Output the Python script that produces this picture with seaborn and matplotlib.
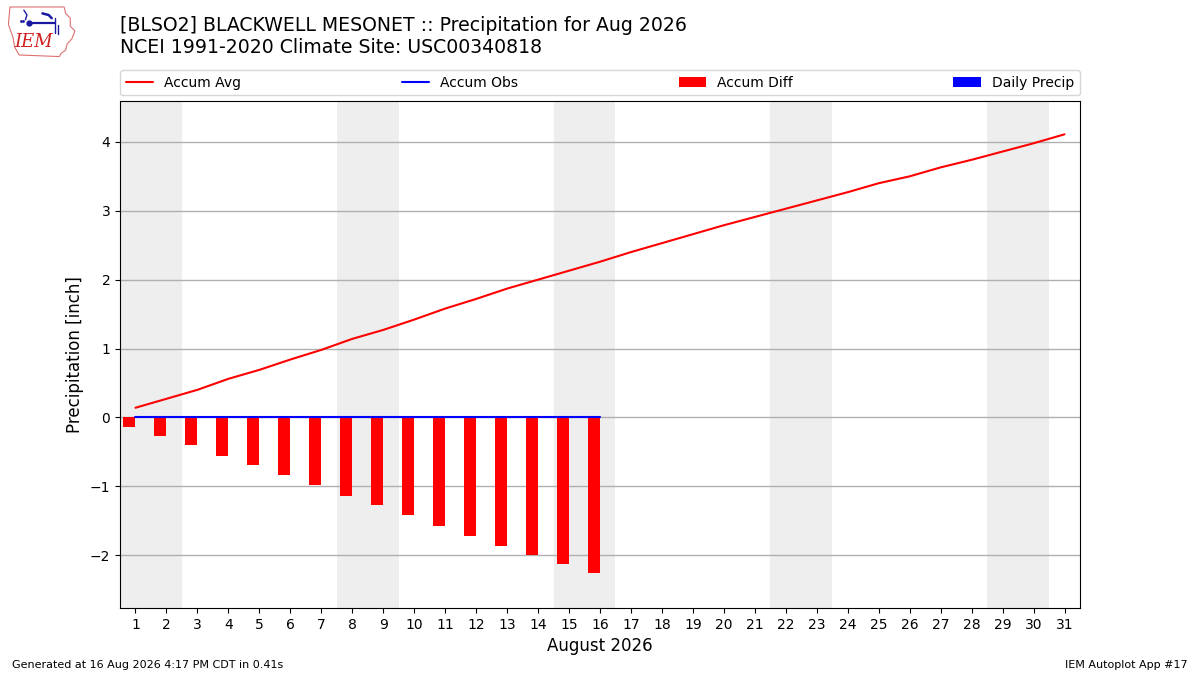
import numpy as np
import pandas as pd
import matplotlib
matplotlib.use("Agg")
import matplotlib.pyplot as plt
from matplotlib.patches import Patch, Polygon
from matplotlib.lines import Line2D
import seaborn as sns

# Values
days = list(range(1, 32))
accum_avg = [0.14, 0.27, 0.40, 0.56, 0.69, 0.84, 0.98, 1.14, 1.27, 1.42,
             1.58, 1.72, 1.87, 2.00, 2.13, 2.26, 2.40, 2.53, 2.66, 2.79,
             2.91, 3.03, 3.15, 3.27, 3.40, 3.50, 3.63, 3.74, 3.86, 3.98, 4.11]
obs_days = list(range(1, 17))
accum_obs = [0.0] * 16
daily_precip = [0.0] * 16
accum_diff = [o - a for o, a in zip(accum_obs, accum_avg[:16])]
weekend_starts = [1, 8, 15, 22, 29]

title_lines = ["[BLSO2] BLACKWELL MESONET :: Precipitation for Aug 2026",
               "NCEI 1991-2020 Climate Site: USC00340818"]
footer_left = "Generated at 16 Aug 2026 4:17 PM CDT in 0.41s"
footer_right = "IEM Autoplot App #17"

sns.set_style("ticks", {"axes.edgecolor": "black", "xtick.color": "black",
                        "ytick.color": "black", "text.color": "black",
                        "axes.labelcolor": "black"})
plt.rcParams['font.family'] = ['DejaVu Sans']

fig = plt.figure(figsize=(12, 6.75), dpi=100)
ax = fig.add_axes([0.1, 0.099, 0.8, 0.752])

for s in weekend_starts:
    ax.axvspan(s - 0.5, s + 1.5, color="#eeeeee", zorder=0, lw=0)

ax.bar(obs_days, accum_diff, width=-0.4, align="edge", color="red",
       edgecolor="none", linewidth=0, zorder=2)
ax.bar(obs_days, daily_precip, width=0.4, align="edge", color="blue",
       edgecolor="none", linewidth=0, zorder=2)

avg_df = pd.DataFrame({"day": days, "val": accum_avg})
obs_df = pd.DataFrame({"day": obs_days, "val": accum_obs})
sns.lineplot(data=avg_df, x="day", y="val", color="red", lw=1.5, ax=ax, zorder=3)
sns.lineplot(data=obs_df, x="day", y="val", color="blue", lw=1.5, ax=ax, zorder=3)

ax.set_xlim(0.5, 31.5)
ax.set_ylim(-2.77, 4.6)
ax.set_xticks(days)
ax.set_yticks(range(-2, 5))
ax.yaxis.grid(True, color="#b0b0b0", lw=1)
ax.set_axisbelow(True)
ax.set_xlabel("August 2026", fontsize=12)
ax.set_ylabel("Precipitation [inch]", fontsize=12)
for sp in ax.spines.values():
    sp.set_visible(True)

handles = [Line2D([], [], color="red", lw=1.5),
           Line2D([], [], color="blue", lw=1.5),
           Patch(facecolor="red", edgecolor="none"),
           Patch(facecolor="blue", edgecolor="none")]
labels = ["Accum Avg", "Accum Obs", "Accum Diff", "Daily Precip"]
ax.legend(handles, labels, ncol=4, mode="expand", loc="lower left",
          bbox_to_anchor=(0, 1.01, 1, 0.05), borderaxespad=0, fontsize=10)

fig.text(0.1, 0.977, title_lines[0], fontsize=13.6, va="top")
fig.text(0.1, 0.943, title_lines[1], fontsize=13.6, va="top")
fig.text(0.01, 0.008, footer_left, fontsize=8, va="bottom")
fig.text(0.99, 0.008, footer_right, fontsize=8, va="bottom", ha="right")

# rough IEM logo
lax = fig.add_axes([0.007, 0.915, 0.058, 0.077])
lax.set_xlim(0, 90)
lax.set_ylim(65, 0)
lax.axis("off")
iowa = [(2, 2), (72, 2), (74, 10), (80, 16), (80, 26), (86, 32), (82, 42),
        (76, 48), (74, 56), (68, 60), (66, 64), (14, 62), (8, 52), (6, 40),
        (0, 24), (2, 2)]
lax.add_patch(Polygon(iowa, closed=True, fill=False, ec="#e07070", lw=0.8))
lax.plot([26, 60], [22, 22], color="#1a1aa0", lw=1.6)
lax.plot([60, 60], [16, 34], color="#1a1aa0", lw=1.0)
lax.plot([64, 64], [24, 36], color="#1a1aa0", lw=1.0)
lax.plot([20, 24, 22], [6, 12, 18], color="#1a1aa0", lw=1.0)
lax.plot([26], [22], "o", color="#1a1aa0", ms=3.5)
lax.plot([16, 19], [20, 20], ".", color="#1a1aa0", ms=2)
lax.plot([44, 52, 56], [10, 12, 16], color="#1a1aa0", lw=1.8)
lax.text(32, 46, "IEM", color="#d02020", fontsize=13, style="italic",
         family="DejaVu Serif", ha="center", va="center")

fig.savefig("out.png", dpi=100)
